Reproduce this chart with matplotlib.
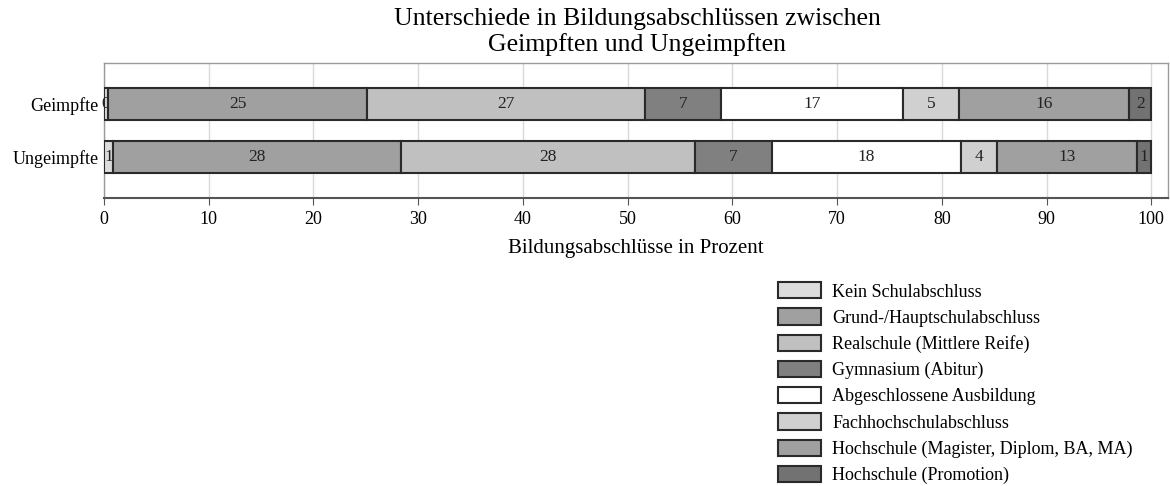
import numpy as np
import matplotlib.pyplot as plt

plt.rcParams['font.family'] = ['Liberation Serif', 'DejaVu Serif']

# Daten
gruppen = ['Geimpfte', 'Ungeimpfte']
kategorien = ['Kein Schulabschluss', 'Grund-/Hauptschulabschluss', 'Realschule (Mittlere Reife)',
              'Gymnasium (Abitur)', 'Abgeschlossene Ausbildung', 'Fachhochschulabschluss',
              'Hochschule (Magister, Diplom, BA, MA)', 'Hochschule (Promotion)']
geimpfte = [0.4, 24.7, 26.6, 7.2, 17.4, 5.3, 16.3, 2.1]
ungeimpfte = [0.9, 27.5, 28.0, 7.4, 18.0, 3.5, 13.3, 1.4]
farben = ['#dcdcdc', '#a0a0a0', '#c0c0c0', '#808080', '#ffffff', '#d0d0d0', '#a0a0a0', '#727272']

werte = np.array([geimpfte, ungeimpfte])

fig = plt.figure(figsize=(11.7, 4.86), dpi=100)
ax = fig.add_axes([104/1170, 1 - 198/486, 1064/1170, 135/486])

y = np.arange(len(gruppen))
links = np.zeros(len(gruppen))
for i, kat in enumerate(kategorien):
    b = ax.barh(y, werte[:, i], left=links, height=0.6, color=farben[i],
                edgecolor='#2a2a2a', linewidth=1.5, label=kat, zorder=3)
    ax.bar_label(b, labels=['%.0f' % v for v in werte[:, i]], label_type='center',
                 fontsize=12.5, color='#222222')
    links += werte[:, i]

ax.set_xlim(0, 101.6)
ax.set_ylim(1.76, -0.77)
ax.set_yticks(y)
ax.set_yticklabels(gruppen, fontsize=13)
ax.set_xticks(np.arange(0, 101, 10))
ax.tick_params(axis='x', labelsize=13, length=5, color='#555555', pad=4)
ax.tick_params(axis='y', length=0, pad=4)
ax.grid(axis='x', color='#d9d9d9', linewidth=1, zorder=0)
for s in ax.spines.values():
    s.set_color('#9a9a9a')
    s.set_linewidth(1)
ax.spines['bottom'].set_color('#555555')
ax.spines['bottom'].set_linewidth(1.5)
ax.set_xlabel('Bildungsabschlüsse in Prozent', fontsize=15, labelpad=8)

fig.text(637/1170, 1 - 8/486, 'Unterschiede in Bildungsabschlüssen zwischen\nGeimpften und Ungeimpften',
         ha='center', va='top', fontsize=18.5, linespacing=1.17)

ax.legend(loc='upper left', bbox_to_anchor=(762/1170, 1 - 266/486), bbox_transform=fig.transFigure,
          frameon=False, fontsize=13, handlelength=2.38, handleheight=1.0, labelspacing=0.44,
          handletextpad=0.62)

plt.savefig('out.png', dpi=100)
